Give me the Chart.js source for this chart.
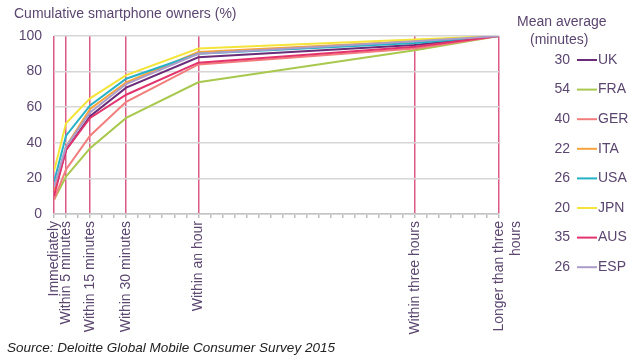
<!DOCTYPE html>
<html>
<head>
<meta charset="utf-8">
<script src="https://cdn.jsdelivr.net/npm/chart.js@4"></script>
<style>
  body { margin: 0; background: #fff; }
  canvas { display: block; }
</style>
</head>
<body>
<canvas id="chart" width="640" height="362"></canvas>
<script>
// x positions of the answer categories on a linear scale
let xPos = [0, 1, 3, 6, 12, 30, 37];
let xLabels = ['Immediately', 'Within 5 minutes', 'Within 15 minutes', 'Within 30 minutes',
  'Within an hour', 'Within three hours', ['Longer than three', 'hours']];

let countries = ['UK', 'FRA', 'GER', 'ITA', 'USA', 'JPN', 'AUS', 'ESP'];
let means = [30, 54, 40, 22, 26, 20, 35, 26];
let colours = ['#6a2c78', '#a8c84e', '#f27d7d', '#f5a33d', '#25b2c6', '#f4e43a', '#e3336d', '#ab9cc9'];

let uk  = [12, 36, 55, 71, 88, 95, 100];
let fra = [8, 21, 37, 54, 74, 92, 100];
let ger = [8, 25, 44, 63, 84, 93, 100];
let ita = [12, 38, 59, 74, 91, 97, 100];
let usa = [18, 44, 61, 76, 90, 96, 100];
let jpn = [24, 51, 65, 78, 93, 98, 100];
let aus = [10, 36, 54, 67, 85, 94, 100];
let esp = [15, 38, 57, 73, 90, 97, 100];
let series = [uk, fra, ger, ita, usa, jpn, aus, esp];

let textColour = '#5b466f';
let pink = '#dc5a86';
let font = '"Liberation Sans", Arial, sans-serif';

let datasets = series.map(function (values, i) {
  return {
    label: countries[i],
    data: values.map(function (v, j) { return {x: xPos[j], y: v}; }),
    borderColor: colours[i],
    backgroundColor: colours[i],
    borderWidth: 2,
    pointRadius: 0,
    tension: 0
  };
});

// draw back to front so JPN/USA end up on top like the picture
datasets.reverse();

let extras = {
  id: 'extras',
  afterDraw: function (c) {
    let ctx = c.ctx;
    ctx.save();
    ctx.fillStyle = textColour;
    ctx.textBaseline = 'middle';
    ctx.font = '14px ' + font;
    ctx.textAlign = 'left';
    ctx.fillText('Cumulative smartphone owners (%)', 14, 14);
    ctx.fillText('Mean average', 517, 22);
    ctx.fillText('(minutes)', 530, 40);

    for (let i = 0; i < countries.length; i++) {
      let y = 60 + i * 29.6;
      ctx.textAlign = 'right';
      ctx.fillText(means[i], 570, y);
      ctx.strokeStyle = colours[i];
      ctx.lineWidth = 2;
      ctx.beginPath();
      ctx.moveTo(577, y);
      ctx.lineTo(597, y);
      ctx.stroke();
      ctx.textAlign = 'left';
      ctx.fillText(countries[i], 598, y);
    }

    ctx.font = 'italic 13.5px ' + font;
    ctx.fillStyle = '#222';
    ctx.fillText('Source: Deloitte Global Mobile Consumer Survey 2015', 7, 348);
    ctx.restore();
  }
};

new Chart(document.getElementById('chart'), {
  type: 'line',
  data: {datasets: datasets},
  options: {
    responsive: false,
    animation: false,
    layout: {padding: {top: 36, right: 141, left: 0, bottom: 0}},
    plugins: {legend: {display: false}, tooltip: {enabled: false}},
    scales: {
      x: {
        type: 'linear',
        min: 0,
        max: 37,
        afterFit: function (s) { s.height = 148; },
        ticks: {
          stepSize: 1,
          autoSkip: false,
          minRotation: 90,
          maxRotation: 90,
          padding: 3,
          color: textColour,
          font: {family: font, size: 14},
          callback: function (v) {
            let i = xPos.indexOf(v);
            return i >= 0 ? xLabels[i] : '';
          }
        },
        grid: {
          drawOnChartArea: true,
          tickLength: 4,
          tickColor: '#bdbdbd',
          lineWidth: 1.5,
          color: function (ctx) {
            return xPos.indexOf(ctx.tick.value) >= 0 ? pink : 'rgba(0,0,0,0)';
          }
        },
        border: {color: '#c4c4c4', width: 1.5}
      },
      y: {
        min: 0,
        max: 100,
        afterFit: function (s) { s.width = 54; },
        ticks: {
          stepSize: 20,
          padding: 12,
          color: textColour,
          font: {family: font, size: 14}
        },
        grid: {color: '#d6d6d6', lineWidth: 1.5, drawTicks: false},
        border: {display: false}
      }
    }
  },
  plugins: [extras]
});
</script>
</body>
</html>
